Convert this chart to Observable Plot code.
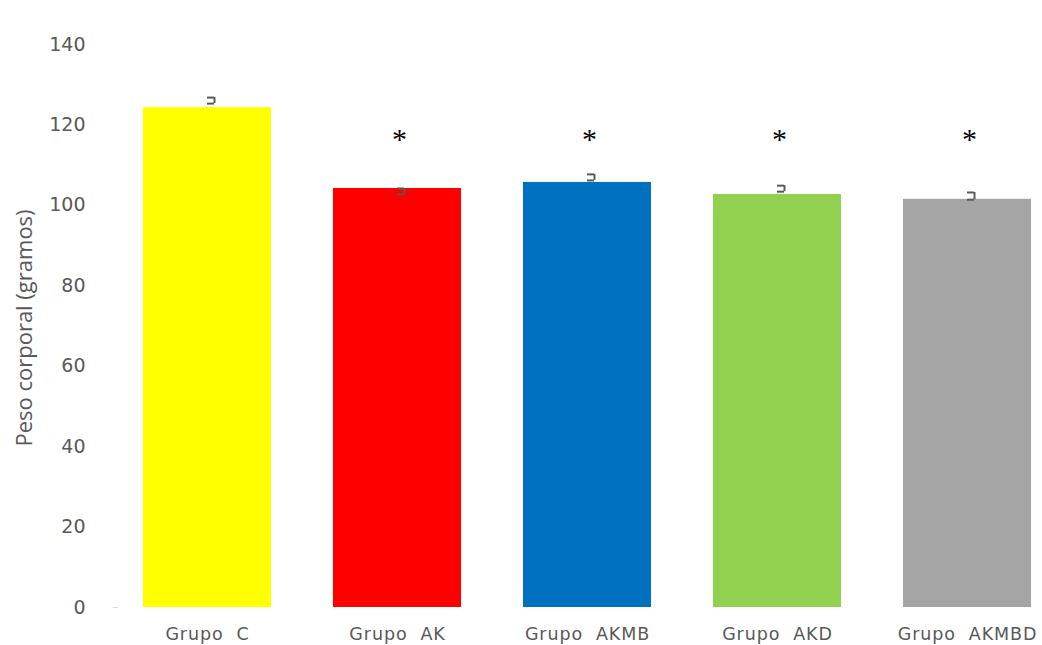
<!DOCTYPE html>
<html>
<head>
<meta charset="utf-8">
<script src="https://cdn.jsdelivr.net/npm/d3@7"></script>
<script src="https://cdn.jsdelivr.net/npm/@observablehq/plot@0.6"></script>
<style>
  html, body { margin: 0; padding: 0; background: #fff; }
  #chart svg { display: block; }
  #chart g[aria-label="x-axis tick label"] text { letter-spacing: 0.9px; }
</style>
</head>
<body>
<div id="chart"></div>
<script>
// Peso corporal medio por grupo, con su error estándar
const groups = ["Grupo  C", "Grupo  AK", "Grupo  AKMB", "Grupo  AKD", "Grupo  AKMBD"];
const weights = [124.3, 104.2, 105.7, 102.7, 101.5];
const errHigh = [126.8, 104.2, 107.7, 104.9, 103.2];
const errLow = [125.3, 102.7, 106.2, 103.4, 101.4];
const colors = ["#FFFF00", "#FF0000", "#0070C0", "#92D050", "#A5A5A5"];
const signif = ["", "*", "*", "*", "*"];
const yTicks = [0, 20, 40, 60, 80, 100, 120, 140];

const rows = groups.map((g, i) => ({
  group: g, weight: weights[i], hi: errHigh[i], lo: errLow[i], color: colors[i], mark: signif[i]
}));

const grey = "#595959";

const chart = Plot.plot({
  width: 1042,
  height: 645,
  marginLeft: 142,
  marginRight: 10,
  marginTop: 44,
  marginBottom: 38,
  style: { fontFamily: "DejaVu Sans", background: "#fff" },
  x: { domain: groups, paddingInner: 0.328, paddingOuter: 0 },
  y: { domain: [0, 140] },
  marks: [
    Plot.barY(rows, { x: "group", y: "weight", fill: "color" }),
    // error brackets
    Plot.tickY(rows, { x: "group", y: "hi", stroke: grey, strokeWidth: 2, insetLeft: 64, insetRight: 57 }),
    Plot.tickY(rows, { x: "group", y: "lo", stroke: grey, strokeWidth: 2, insetLeft: 64, insetRight: 57 }),
    Plot.ruleX(rows, { x: "group", y1: "lo", y2: "hi", dx: 7, stroke: grey, strokeWidth: 2 }),
    // significance marks
    Plot.text(rows.filter(d => d.mark), {
      x: "group", y: () => 116.5, text: "mark",
      fontFamily: "Liberation Serif", fontSize: 30, fill: "#000", dy: 0, dx: 2
    }),
    Plot.axisY({
      ticks: yTicks, tickSize: 0, tickPadding: 57, label: null,
      fontSize: 19, fill: grey
    }),
    Plot.axisY({ ticks: [0], tickSize: 5, text: null, label: null, stroke: "#d9d9d9", dx: -24 }),
    Plot.axisX({
      tickSize: 0, tickPadding: 20, label: null, fontSize: 17.5, fill: grey
    }),
    Plot.text(["Peso corporal (gramos)"], {
      frameAnchor: "left", textAnchor: "middle", rotate: -90, dx: -118, dy: 2,
      fontFamily: "Open Sans", fontSize: 22, fill: grey
    })
  ]
});

document.getElementById("chart").appendChild(chart);
</script>
</body>
</html>
